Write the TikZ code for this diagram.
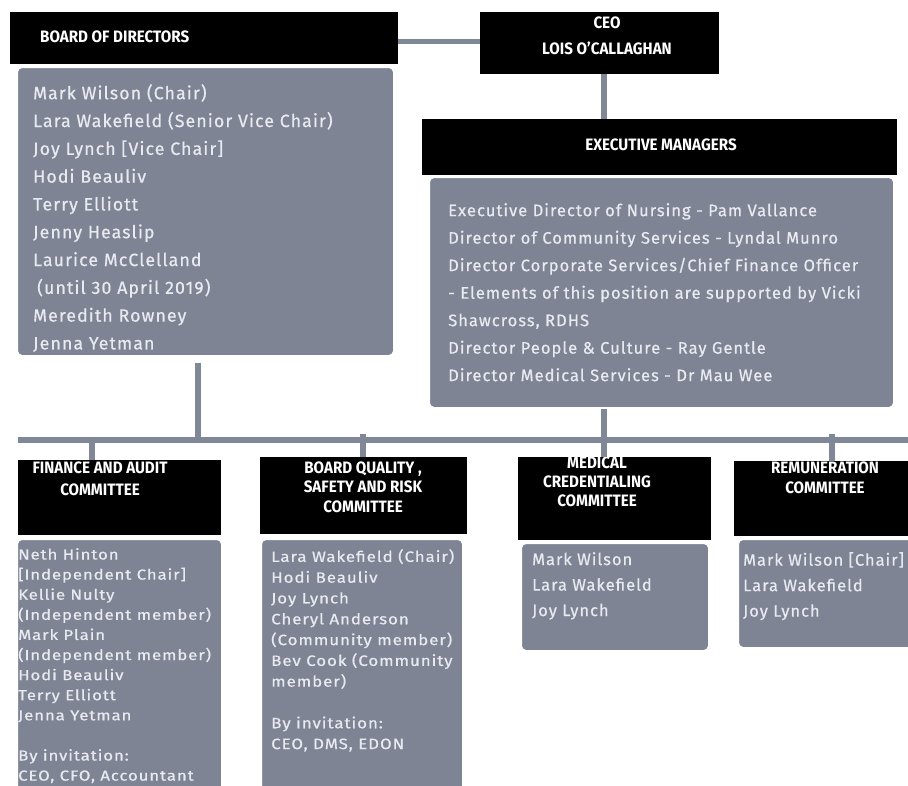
\documentclass[tikz,border=0pt]{standalone}
\usepackage{fontspec}
\setmainfont[LetterSpace=6, FakeBold=0.6]{Fira Sans}
\newfontfamily\fafont[LetterSpace=6, FakeStretch=1.16, FakeBold=0.6]{Fira Sans}
\newfontfamily\bqfont[LetterSpace=6, FakeStretch=1.13, FakeBold=0.6]{Fira Sans}
\newfontfamily\hdrfont[FakeStretch=0.92]{Fira Sans}
\definecolor{boxgray}{RGB}{126,132,148}
\definecolor{linegray}{RGB}{128,136,152}
\definecolor{txtlight}{RGB}{232,234,240}
\begin{document}
\begin{tikzpicture}[x=1pt,y=-1pt,
  hdr/.style={fill=black, inner sep=0pt, anchor=north west},
  gbox/.style={fill=boxgray, draw=white, line width=2pt, rounded corners=5pt, inner sep=0pt, anchor=north west},
  conn/.style={draw=linegray, line width=6pt},
  htext/.style={text=white, font=\hdrfont\bfseries\fontsize{16.5}{20}\selectfont, align=center, inner sep=0pt},
  btext/.style={text=txtlight, align=left, inner sep=0pt, anchor=north west},
]
\useasboundingbox (0,0) rectangle (908,785);
\clip (0,0) rectangle (908,785);
\fill[white] (0,0) rectangle (908,785);

% top level boxes
\node[hdr, minimum width=388pt, minimum height=52pt] (bodh) at (10,12) {};
\node[gbox, minimum width=377pt, minimum height=289pt] (bodb) at (16,66) {};
\node[hdr, minimum width=239pt, minimum height=62pt] (ceo) at (480,12) {};
\node[hdr, minimum width=475pt, minimum height=56pt] (exh) at (422,119) {};
\node[gbox, minimum width=465pt, minimum height=231pt] (exb) at (428,176) {};

% committee boxes
\node[hdr, minimum width=203pt, minimum height=75pt] (fah) at (18,460) {};
\node[gbox, minimum width=205pt, minimum height=260pt] (fab) at (16,538) {};
\node[hdr, minimum width=207pt, minimum height=77pt] (bqh) at (260,457) {};
\node[gbox, minimum width=202pt, minimum height=260pt] (bqb) at (260,538) {};
\node[hdr, minimum width=193pt, minimum height=83pt] (mch) at (518,457) {};
\node[gbox, minimum width=188pt, minimum height=108pt] (mcb) at (520,542) {};
\node[hdr, minimum width=190pt, minimum height=75pt] (rmh) at (734,461) {};
\node[gbox, minimum width=190pt, minimum height=109pt] (rmb) at (737,538) {};

% header texts
\node[htext, anchor=west] (bodt) at (40,37) {BOARD OF DIRECTORS};
\node[htext, font=\hdrfont\bfseries\fontsize{16.5}{26}\selectfont] (ceot) at (607,36) {CEO\\LOIS O’CALLAGHAN};
\node[htext] (exht) at (661,145) {EXECUTIVE MANAGERS};
\node[htext, font=\hdrfont\bfseries\fontsize{16.5}{22}\selectfont] (faht) at (100,479) {FINANCE AND AUDIT\\COMMITTEE};
\node[htext, font=\hdrfont\bfseries\fontsize{16.5}{19.5}\selectfont] (bqht) at (363,487) {BOARD QUALITY ,\\SAFETY AND RISK\\COMMITTEE};
\node[htext, font=\hdrfont\bfseries\fontsize{16.5}{19}\selectfont] (mcht) at (597,482) {MEDICAL\\CREDENTIALING\\COMMITTEE};
\node[htext, font=\hdrfont\bfseries\fontsize{16.5}{20}\selectfont] (rmht) at (825,478) {REMUNERATION\\COMMITTEE};

% body texts
\node[btext, font=\fontsize{17.8}{27.8}\selectfont] (bodl) at (33,84) {Mark Wilson (Chair)\\Lara Wakefield (Senior Vice Chair)\\Joy Lynch [Vice Chair]\\Hodi Beauliv\\Terry Elliott\\Jenny Heaslip\\Laurice McClelland\\\hspace*{4pt}(until 30 April 2019)\\Meredith Rowney\\Jenna Yetman};
\node[btext, font=\fontsize{16.6}{27.5}\selectfont] (exl) at (448,203) {Executive Director of Nursing - Pam Vallance\\Director of Community Services - Lyndal Munro\\Director Corporate Services/Chief Finance Officer\\- Elements of this position are supported by Vicki\\Shawcross, RDHS\\Director People \& Culture - Ray Gentle\\Director Medical Services - Dr Mau Wee};
\node[btext, font=\fafont\fontsize{14.5}{20.1}\selectfont] (fal) at (18,548) {Neth Hinton\\{[}Independent Chair{]}\\Kellie Nulty\\(Independent member)\\Mark Plain\\(Independent member)\\Hodi Beauliv\\Terry Elliott\\Jenna Yetman\\[20.1pt]By invitation:\\CEO, CFO, Accountant};
\node[btext, font=\bqfont\fontsize{15}{20.8}\selectfont] (bql) at (271,549) {Lara Wakefield (Chair)\\Hodi Beauliv\\Joy Lynch\\Cheryl Anderson\\(Community member)\\Bev Cook (Community\\member)\\[20.8pt]By invitation:\\CEO, DMS, EDON};
\node[btext, font=\fontsize{16.5}{25.5}\selectfont] (mcl) at (532,552) {Mark Wilson\\Lara Wakefield\\Joy Lynch};
\node[btext, font=\fontsize{16.5}{25.5}\selectfont] (rml) at (743,552) {Mark Wilson [Chair]\\Lara Wakefield\\Joy Lynch};

% connectors
\coordinate (busL) at (18,440);
\coordinate (busR) at (908,440);
\coordinate (spine) at (604,0);
\coordinate (jbod) at (198,440);
\coordinate (jfa) at (92,440);
\coordinate (jbq) at (363,434);
\coordinate (jrm) at (832,434);
\draw[conn, line width=5pt] ([yshift=-3pt]bodh.east) -- ([yshift=-3pt]bodh.east -| ceo.west);
\draw[conn] (ceo.south -| spine) -- (exh.north -| spine);
\draw[conn] (exb.south -| spine) -- (mch.north -| spine);
\draw[conn] ([yshift=-6pt]bodb.south -| jbod) -- (jbod);
\draw[conn] (busL) -- (busR);
\draw[conn] (jfa) -- (jfa |- fah.north);
\draw[conn] (jbq) -- (jbq |- bqh.north);
\draw[conn] (jrm) -- (jrm |- rmh.north);
\end{tikzpicture}
\end{document}
